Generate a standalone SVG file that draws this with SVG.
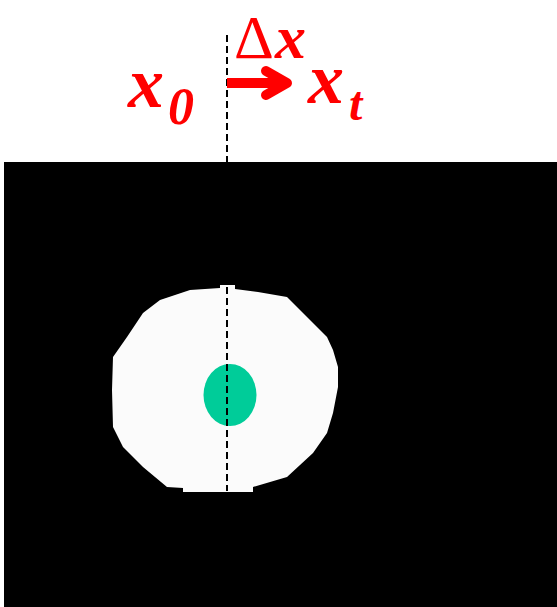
<svg xmlns="http://www.w3.org/2000/svg" width="557" height="607" viewBox="0 0 557 607">
<style>
.lbl{font-family:"Liberation Serif","Times New Roman",serif;fill:#ff0000;font-weight:bold;font-style:italic}
.dash{stroke:#000;stroke-width:2;stroke-dasharray:7 4;fill:none}
</style>
<rect width="557" height="607" fill="#fff"/>
<g id="image">
<rect x="4" y="162" width="553" height="445" fill="#000"/>
<polygon id="blob" fill="#fbfbfb" points="220,285 235,285 235,289 258,292 287,297 307,317 327,337 333,350 338,367 338,387 333,413 327,433 313,453 287,477 253,487 253,492 183,492 183,488 167,487 143,467 123,447 113,427 112,390 113,357 127,337 143,313 160,300 190,290 220,288"/>
<ellipse id="spot" cx="230" cy="395" rx="26.5" ry="31" fill="#00cc99"/>
</g>
<g id="connectors">
<line class="dash" x1="227" y1="35" x2="227" y2="162"/>
<line class="dash" x1="227" y1="287" x2="227" y2="491"/>
<rect x="227" y="78" width="52" height="10" fill="#ff0000"/>
<polyline points="266,71 287,83 266,95" fill="none" stroke="#ff0000" stroke-width="10" stroke-linecap="round" stroke-linejoin="round"/>
</g>
<g id="x0"><text class="lbl" x="128" y="107" font-size="72">x</text><text class="lbl" x="168" y="124" font-size="52">0</text></g>
<g id="dx"><text x="234" y="58" font-size="62" font-family="Liberation Serif, serif" fill="#ff0000">Δ</text><text class="lbl" x="275" y="58" font-size="62">x</text></g>
<g id="xt"><text class="lbl" x="308" y="103" font-size="72">x</text><text class="lbl" x="349" y="120" font-size="48">t</text></g>
</svg>
